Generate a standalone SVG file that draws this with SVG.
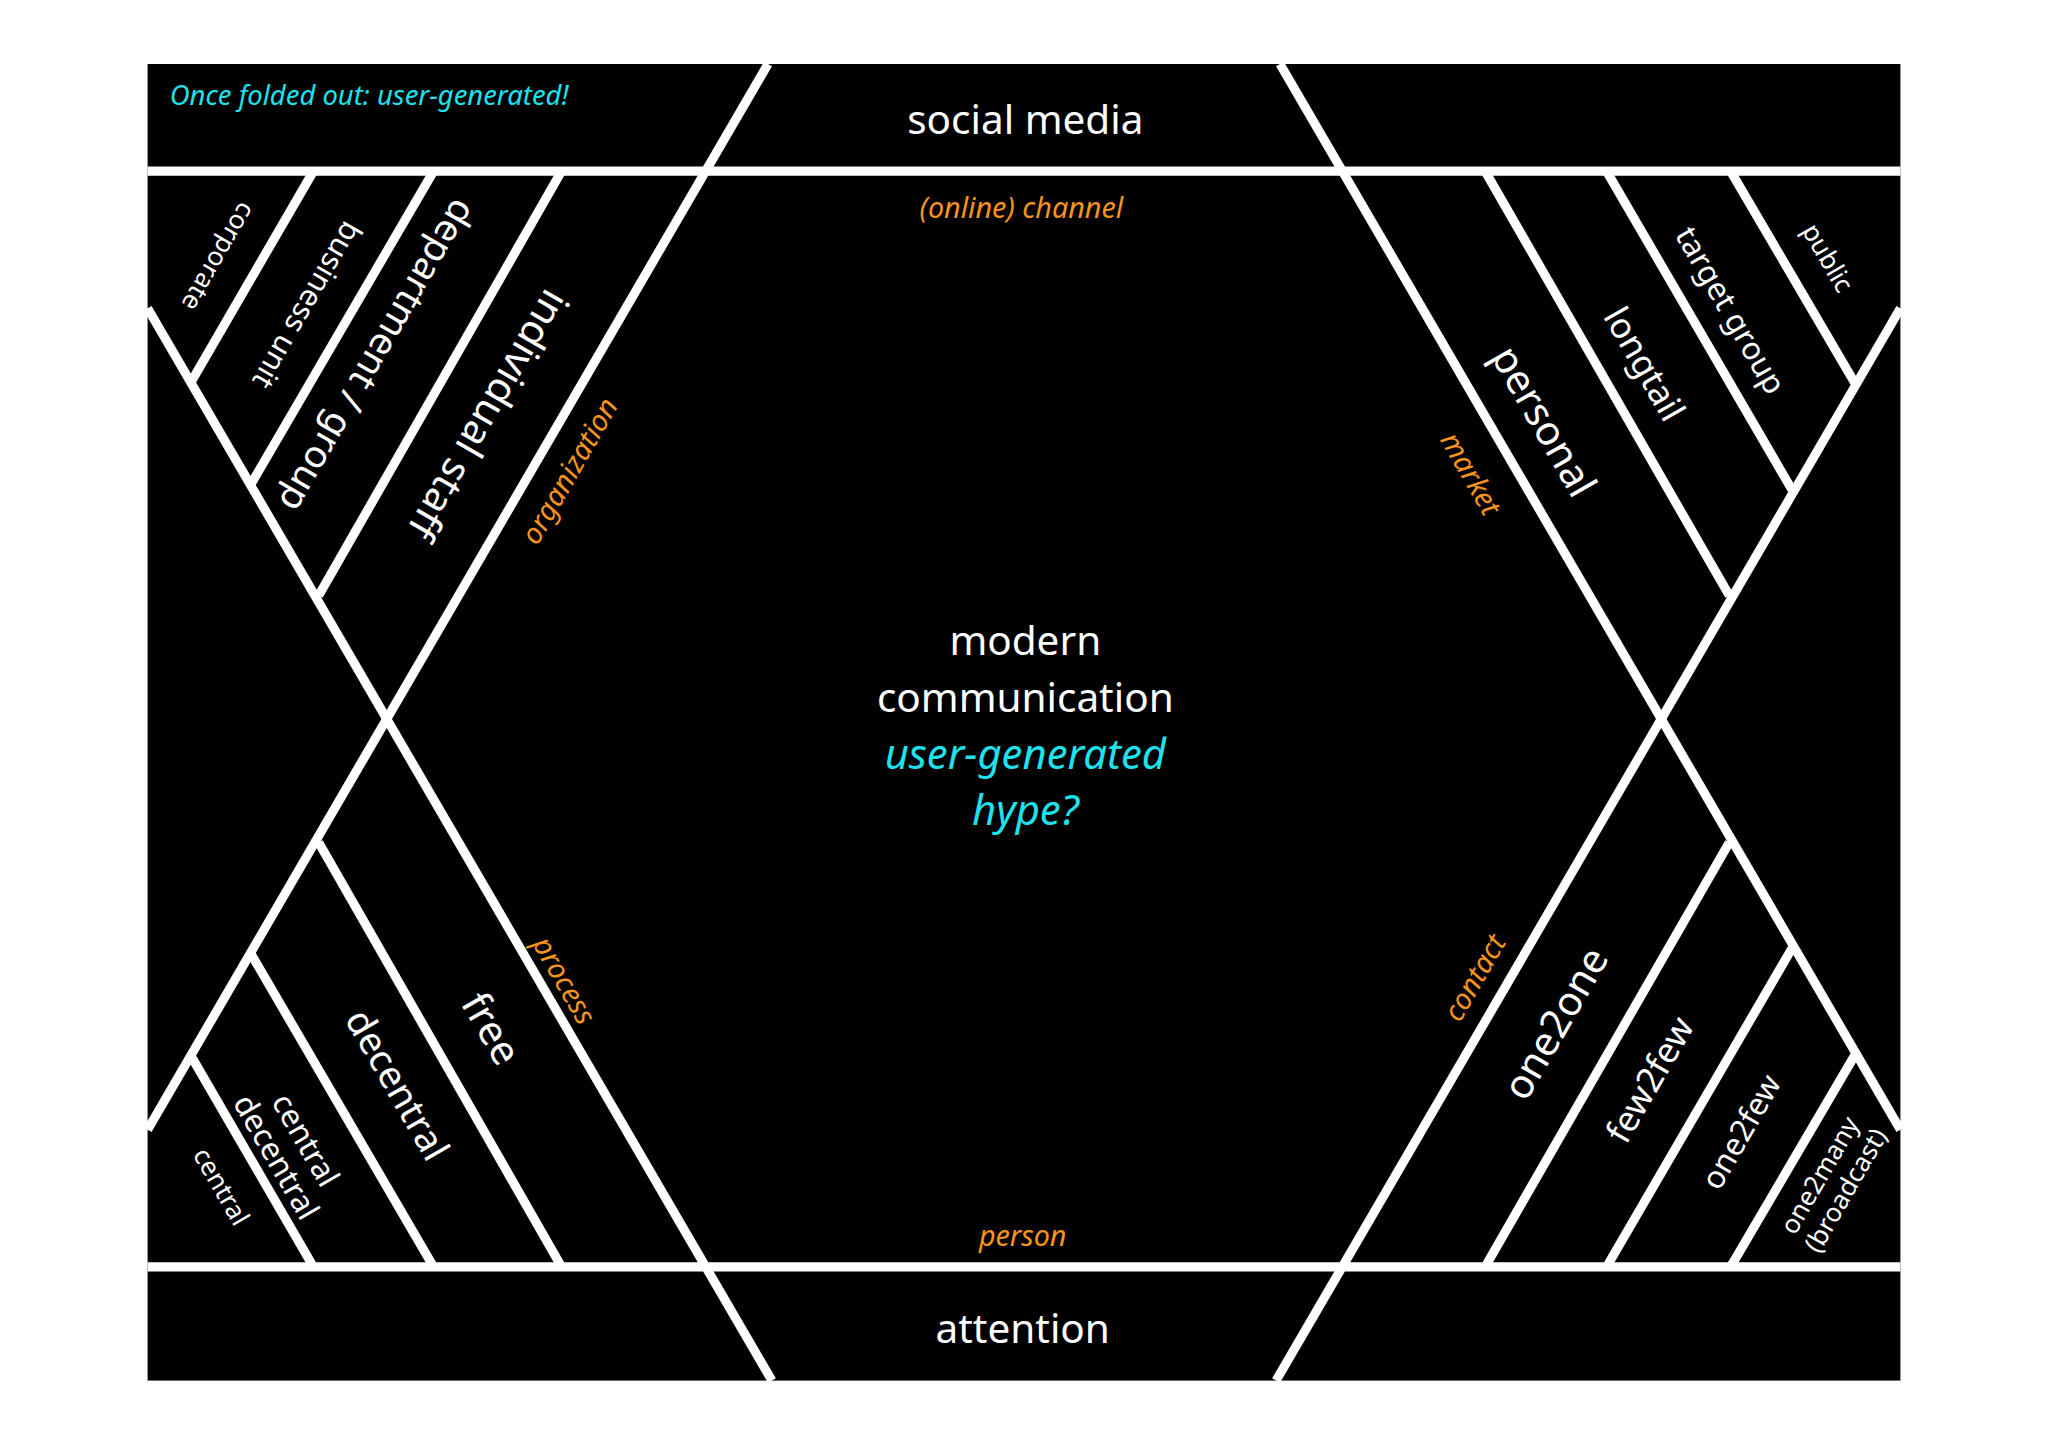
<svg xmlns="http://www.w3.org/2000/svg" width="2048" height="1447" viewBox="0 0 2048 1447">
<style>
.ln{stroke:#fff;stroke-width:7;fill:none}
.w{fill:#fff;font-family:"Noto Sans","Open Sans",sans-serif;text-anchor:middle;dominant-baseline:central}
.o{fill:#f7941d;font-family:"Noto Sans",sans-serif;font-style:italic;font-size:22px;text-anchor:middle;dominant-baseline:central}
.c{fill:#1ee3ee;font-family:"Noto Sans",sans-serif;font-style:italic;text-anchor:middle;dominant-baseline:central}
</style>
<rect width="2048" height="1447" fill="#fff"/>
<g transform="scale(1.30612)">
<rect x="113" y="49" width="1342" height="1008" fill="#000"/>
<g id="connectors">
<line class="ln" x1="113" y1="131" x2="1455" y2="131"/>
<line class="ln" x1="113" y1="970" x2="1455" y2="970"/>
<line class="ln" x1="588" y1="49" x2="113" y2="865"/>
<line class="ln" x1="113" y1="236" x2="591" y2="1057"/>
<line class="ln" x1="980" y1="49" x2="1455" y2="865"/>
<line class="ln" x1="1455" y1="236" x2="977" y2="1057"/>
<line class="ln" x1="240" y1="131" x2="146" y2="293"/>
<line class="ln" x1="332" y1="131" x2="192" y2="371"/>
<line class="ln" x1="430" y1="131" x2="244" y2="456"/>
<line class="ln" x1="1137" y1="131" x2="1324" y2="456"/>
<line class="ln" x1="1230" y1="131" x2="1372" y2="375"/>
<line class="ln" x1="1325" y1="131" x2="1420" y2="293"/>
<line class="ln" x1="240" y1="970" x2="146" y2="808"/>
<line class="ln" x1="332" y1="970" x2="192" y2="730"/>
<line class="ln" x1="430" y1="970" x2="244" y2="645"/>
<line class="ln" x1="1137" y1="970" x2="1324" y2="645"/>
<line class="ln" x1="1230" y1="970" x2="1372" y2="726"/>
<line class="ln" x1="1325" y1="970" x2="1420" y2="808"/>
</g>
<g id="header"><text class="c" x="130" y="72" style="text-anchor:start;font-size:21px">Once folded out: user-generated!</text></g>
<g id="social"><text class="w" x="785" y="91" font-size="31">social media</text></g>
<g id="channel"><text class="o" x="782" y="158">(online) channel</text></g>
<g id="center">
<text class="w" x="785" y="490" font-size="31">modern</text>
<text class="w" x="785" y="533" font-size="31">communication</text>
<text class="c" x="785" y="576" font-size="32">user-generated</text>
<text class="c" x="785" y="619" font-size="32">hype?</text>
</g>
<g id="person"><text class="o" x="783" y="945">person</text></g>
<g id="attention"><text class="w" x="783" y="1016" font-size="31">attention</text></g>
<g id="organization"><text class="o" transform="translate(435,360) rotate(-60)">organization</text></g>
<g id="market"><text class="o" transform="translate(1127,362) rotate(60)">market</text></g>
<g id="process"><text class="o" transform="translate(433,750) rotate(60)">process</text></g>
<g id="contact"><text class="o" transform="translate(1128,748) rotate(-60)">contact</text></g>
<g id="corporate"><text class="w" font-size="20" transform="translate(168,197) rotate(120)">corporate</text></g>
<g id="business"><text class="w" font-size="23" transform="translate(236,234) rotate(120)">business unit</text></g>
<g id="department"><text class="w" font-size="29" transform="translate(290,273) rotate(120)">department / group</text></g>
<g id="individual"><text class="w" font-size="31" transform="translate(375,318) rotate(120)">individual staff</text></g>
<g id="personal"><text class="w" font-size="31" transform="translate(1183,322) rotate(60)">personal</text></g>
<g id="longtail"><text class="w" font-size="27" transform="translate(1260,278) rotate(60)">longtail</text></g>
<g id="target"><text class="w" font-size="24" transform="translate(1326,237) rotate(60)">target group</text></g>
<g id="public"><text class="w" font-size="20" transform="translate(1400,197) rotate(60)">public</text></g>
<g id="free"><text class="w" font-size="31" transform="translate(377,787) rotate(60)">free</text></g>
<g id="decentral"><text class="w" font-size="29" transform="translate(305,830) rotate(60)">decentral</text></g>
<g id="centraldecentral"><text class="w" font-size="24" transform="translate(225,878) rotate(60)"><tspan x="0" y="-12">central</tspan><tspan x="0" y="14">decentral</tspan></text></g>
<g id="central"><text class="w" font-size="20" transform="translate(170,908) rotate(60)">central</text></g>
<g id="one2one"><text class="w" font-size="31" transform="translate(1190,783) rotate(-60)">one2one</text></g>
<g id="few2few"><text class="w" font-size="27" transform="translate(1262,826) rotate(-60)">few2few</text></g>
<g id="one2few"><text class="w" font-size="24" transform="translate(1332,866) rotate(-60)">one2few</text></g>
<g id="one2many"><text class="w" font-size="20" transform="translate(1402,905) rotate(-60)"><tspan x="0" y="-11">one2many</tspan><tspan x="0" y="12">(broadcast)</tspan></text></g>
</g>
</svg>
